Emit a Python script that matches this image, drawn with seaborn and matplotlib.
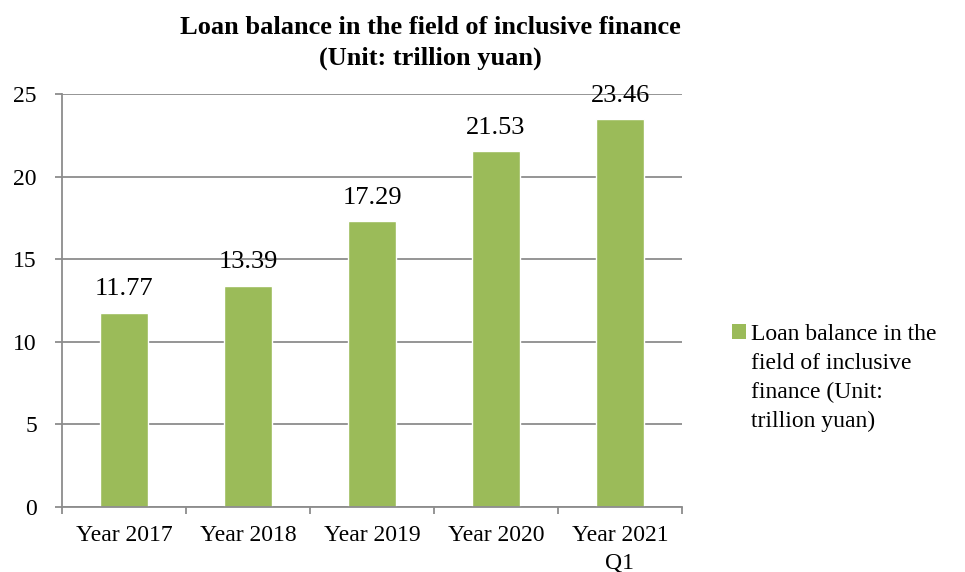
import numpy as np
import matplotlib
matplotlib.use("Agg")
import matplotlib.pyplot as plt
import seaborn as sns
from matplotlib.patches import Patch

years = ["Year 2017", "Year 2018", "Year 2019", "Year 2020", "Year 2021\nQ1"]
balances = [11.77, 13.39, 17.29, 21.53, 23.46]
y_ticks = [0, 5, 10, 15, 20, 25]
series_label = "Loan balance in the\nfield of inclusive\nfinance (Unit:\ntrillion yuan)"
title_text = "Loan balance in the field of inclusive finance\n(Unit: trillion yuan)"

bar_color = "#9BBB59"
grid_color = "#8C8C8C"

sns.set_theme(style="white", rc={"text.color": "black",
                                 "xtick.labelcolor": "black",
                                 "ytick.labelcolor": "black"})
plt.rcParams["font.family"] = ["Liberation Serif", "DejaVu Serif"]

fig = plt.figure(figsize=(9.65, 5.72), dpi=100)
ax = fig.add_axes([62 / 965, 1 - 507 / 572, 620 / 965, 413 / 572])

sns.barplot(x=years, y=balances, color=bar_color, width=0.39, saturation=1, ax=ax)

ax.set_ylim(0, 25)
ax.set_xlim(-0.5, len(years) - 0.5)
ax.set_yticks(y_ticks)
ax.set_yticklabels([str(t) for t in y_ticks], fontsize=17)
ax.yaxis.grid(True, color=grid_color, linewidth=1.3)
ax.set_axisbelow(True)

# category labels without tick marks, tick marks on category boundaries
ax.set_xticks(range(len(years)))
ax.set_xticklabels(years, fontsize=17, linespacing=1.4)
ax.tick_params(axis="x", which="major", length=0, pad=13)
ax.set_xticks(np.arange(-0.5, len(years), 1.0), minor=True)
ax.tick_params(axis="x", which="minor", length=5, width=1.3, color=grid_color, direction="out", bottom=True)
ax.tick_params(axis="y", length=5, width=1.3, color=grid_color, direction="out", left=True, pad=13)

for side in ["top", "right"]:
    ax.spines[side].set_visible(False)
for side in ["left", "bottom"]:
    ax.spines[side].set_color(grid_color)
    ax.spines[side].set_linewidth(1.3)

for i, v in enumerate(balances):
    ax.annotate(f"{v:.2f}", (i, v), xytext=(0, 9), textcoords="offset points",
                ha="center", va="bottom", fontsize=19, color="black")

ax.set_xlabel("")
ax.set_ylabel("")

fig.text(430 / 965, 1 - 16 / 572, title_text, ha="center", va="top",
         fontsize=19, fontweight="bold", linespacing=1.42, color="black")

handle = Patch(facecolor=bar_color, edgecolor="none")
leg = fig.legend([handle], [series_label], loc="upper left",
                 bbox_to_anchor=(720 / 965, 1 - 312 / 572), frameon=False,
                 fontsize=17, handlelength=0.6, handleheight=0.6,
                 handletextpad=0.2, borderpad=0, labelspacing=0)
for t in leg.get_texts():
    t.set_linespacing(1.5)
    t.set_color("black")
# put the square beside the first line of the label
for column in leg._legend_handle_box.get_children():
    for row in column.get_children():
        row.align = "top"

fig.savefig("out.png", dpi=100, facecolor="white")
plt.close(fig)
